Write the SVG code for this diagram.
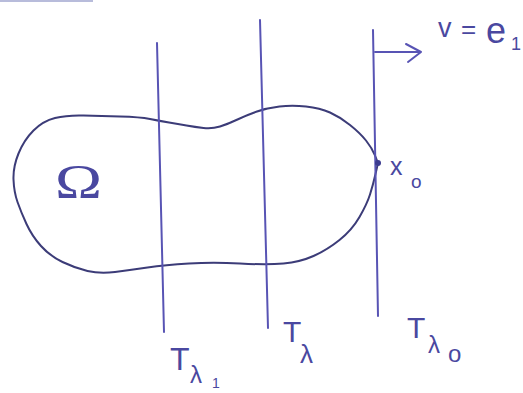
<svg xmlns="http://www.w3.org/2000/svg" width="523" height="393" viewBox="0 0 523 393">
<style>
.vline{stroke:#5854b4;stroke-width:2;fill:none;stroke-linecap:round}
.curve{stroke:#3c3c78;stroke-width:2;fill:none;stroke-linejoin:round}
.lbl{fill:#4a48a0;font-family:"Liberation Sans",Arial,sans-serif}
.arrow{stroke:#5854b4;stroke-width:2;fill:none;stroke-linecap:round;stroke-linejoin:round}
</style>
<rect width="523" height="393" fill="#ffffff"/>
<line x1="0" y1="1" x2="93" y2="1" stroke="#8a90c4" stroke-width="2" opacity="0.6"/>
<g id="omega-domain">
<path class="curve" d="M378,163 L375,155.5 Q372,148 366,140.5 Q360,133 350,125 Q340,117 330,112.5 Q320,108 306,106.5 Q292,105 279.5,106.5 Q267,108 257,111.5 Q247,115 237.5,119.5 Q228,124 220,126.5 Q212,129 203.5,128 Q195,127 186.5,125.5 Q178,124 169,122.5 Q160,121 150,119 Q140,117 120,116.5 Q100,116 83.5,115.5 Q67,115 55,118 Q43,121 33.5,130.5 Q24,140 18.5,153.5 Q13,167 13.5,179.5 Q14,192 17.5,202 Q21,212 26.5,224 Q32,236 41,246 Q50,256 62.5,262 Q75,268 87.5,271 Q100,274 115,272 Q130,270 147.5,267.5 Q165,265 189,263.5 Q213,262 240,263.5 Q267,265 283.5,263.5 Q300,262 313.5,256 Q327,250 339.5,240 Q352,230 359.5,217 Q367,204 370,194.5 Q373,185 375.5,174 L378,163 Z"/>
<text class="lbl" x="55" y="198" style="font-family:'Liberation Serif',serif" font-size="48" textLength="47" lengthAdjust="spacingAndGlyphs">Ω</text>
</g>
<g id="T-lambda1">
<line class="vline" x1="157" y1="43" x2="164" y2="332"/>
<text class="lbl" x="170" y="370" font-size="32">T</text>
<text class="lbl" x="190" y="383" font-size="24">λ</text>
<text class="lbl" x="212" y="388" font-size="14">1</text>
</g>
<g id="T-lambda">
<line class="vline" x1="260" y1="20" x2="268" y2="328"/>
<text class="lbl" x="283" y="342" font-size="30">T</text>
<text class="lbl" x="300" y="363" font-size="26">λ</text>
</g>
<g id="T-lambda0">
<line class="vline" x1="373" y1="30" x2="378" y2="316"/>
<text class="lbl" x="407" y="338" font-size="30">T</text>
<text class="lbl" x="428" y="353" font-size="24">λ</text>
<text class="lbl" x="448" y="362" font-size="24">o</text>
</g>
<g id="x0">
<circle cx="378" cy="163" r="3" fill="#3c3c90"/>
<text class="lbl" x="390" y="175" font-size="25">x</text>
<text class="lbl" x="411" y="188" font-size="19">o</text>
</g>
<g id="connectors">
<path class="arrow" d="M375,52 L421,52 M406,44 L421,52 L408,62"/>
</g>
<g id="v-label">
<text class="lbl" x="438" y="37" font-size="27">v</text>
<text class="lbl" x="461" y="38" font-size="26">=</text>
<text class="lbl" x="486" y="43" font-size="36">e</text>
<text class="lbl" x="511" y="50" font-size="18">1</text>
</g>
</svg>
